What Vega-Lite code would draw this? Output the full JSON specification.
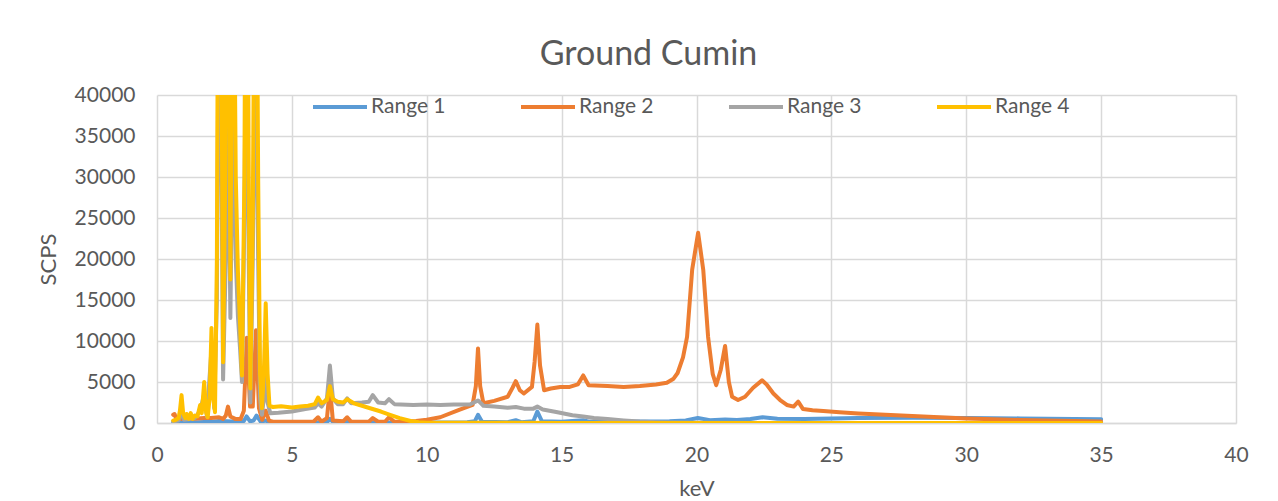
{
  "$schema": "https://vega.github.io/schema/vega-lite/v6.json",
  "autosize": "none",
  "width": 1079,
  "height": 328,
  "padding": {"left": 157, "top": 95, "right": 42, "bottom": 78},
  "background": "white",
  "title": {
    "text": "Ground Cumin",
    "fontSize": 34,
    "font": "Lato",
    "fontWeight": "normal",
    "color": "#595959",
    "anchor": "middle",
    "dx": -48,
    "offset": 6
  },
  "data": {
    "values": [
      {"series": "Range 1", "kev": 0.6, "scps": 50}, {"series": "Range 1", "kev": 1.0, "scps": 100}, {"series": "Range 1", "kev": 1.5, "scps": 100},
      {"series": "Range 1", "kev": 2.0, "scps": 150}, {"series": "Range 1", "kev": 2.3, "scps": 250}, {"series": "Range 1", "kev": 2.6, "scps": 200},
      {"series": "Range 1", "kev": 3.0, "scps": 150}, {"series": "Range 1", "kev": 3.22, "scps": 250}, {"series": "Range 1", "kev": 3.32, "scps": 800},
      {"series": "Range 1", "kev": 3.45, "scps": 200}, {"series": "Range 1", "kev": 3.58, "scps": 300}, {"series": "Range 1", "kev": 3.69, "scps": 900},
      {"series": "Range 1", "kev": 3.85, "scps": 150}, {"series": "Range 1", "kev": 4.02, "scps": 300}, {"series": "Range 1", "kev": 4.2, "scps": 80},
      {"series": "Range 1", "kev": 5.0, "scps": 60}, {"series": "Range 1", "kev": 6.0, "scps": 60}, {"series": "Range 1", "kev": 6.3, "scps": 100},
      {"series": "Range 1", "kev": 6.41, "scps": 500}, {"series": "Range 1", "kev": 6.55, "scps": 50}, {"series": "Range 1", "kev": 7.05, "scps": 120},
      {"series": "Range 1", "kev": 8.0, "scps": 50}, {"series": "Range 1", "kev": 9.0, "scps": 50}, {"series": "Range 1", "kev": 10.0, "scps": 50},
      {"series": "Range 1", "kev": 11.5, "scps": 100}, {"series": "Range 1", "kev": 11.78, "scps": 200}, {"series": "Range 1", "kev": 11.9, "scps": 1000},
      {"series": "Range 1", "kev": 12.05, "scps": 150}, {"series": "Range 1", "kev": 13.0, "scps": 100}, {"series": "Range 1", "kev": 13.3, "scps": 350},
      {"series": "Range 1", "kev": 13.5, "scps": 100}, {"series": "Range 1", "kev": 13.95, "scps": 200}, {"series": "Range 1", "kev": 14.1, "scps": 1400},
      {"series": "Range 1", "kev": 14.27, "scps": 200}, {"series": "Range 1", "kev": 15.0, "scps": 150}, {"series": "Range 1", "kev": 15.8, "scps": 350},
      {"series": "Range 1", "kev": 16.0, "scps": 150}, {"series": "Range 1", "kev": 17.0, "scps": 150}, {"series": "Range 1", "kev": 18.0, "scps": 170},
      {"series": "Range 1", "kev": 19.0, "scps": 220}, {"series": "Range 1", "kev": 19.6, "scps": 320}, {"series": "Range 1", "kev": 20.05, "scps": 600},
      {"series": "Range 1", "kev": 20.5, "scps": 350}, {"series": "Range 1", "kev": 21.06, "scps": 420}, {"series": "Range 1", "kev": 21.5, "scps": 380},
      {"series": "Range 1", "kev": 22.0, "scps": 480}, {"series": "Range 1", "kev": 22.45, "scps": 700}, {"series": "Range 1", "kev": 23.0, "scps": 520},
      {"series": "Range 1", "kev": 24.0, "scps": 500}, {"series": "Range 1", "kev": 25.0, "scps": 560}, {"series": "Range 1", "kev": 26.0, "scps": 600},
      {"series": "Range 1", "kev": 28.0, "scps": 650}, {"series": "Range 1", "kev": 30.0, "scps": 620}, {"series": "Range 1", "kev": 32.0, "scps": 560},
      {"series": "Range 1", "kev": 34.0, "scps": 500}, {"series": "Range 1", "kev": 35.0, "scps": 460},

      {"series": "Range 2", "kev": 0.6, "scps": 1000}, {"series": "Range 2", "kev": 0.65, "scps": 1100}, {"series": "Range 2", "kev": 0.72, "scps": 400},
      {"series": "Range 2", "kev": 0.9, "scps": 500}, {"series": "Range 2", "kev": 1.2, "scps": 500}, {"series": "Range 2", "kev": 1.5, "scps": 550},
      {"series": "Range 2", "kev": 1.75, "scps": 600}, {"series": "Range 2", "kev": 2.0, "scps": 600}, {"series": "Range 2", "kev": 2.3, "scps": 700},
      {"series": "Range 2", "kev": 2.45, "scps": 500}, {"series": "Range 2", "kev": 2.55, "scps": 900}, {"series": "Range 2", "kev": 2.63, "scps": 2000},
      {"series": "Range 2", "kev": 2.72, "scps": 800}, {"series": "Range 2", "kev": 2.9, "scps": 500}, {"series": "Range 2", "kev": 3.1, "scps": 500},
      {"series": "Range 2", "kev": 3.22, "scps": 1500}, {"series": "Range 2", "kev": 3.33, "scps": 10400}, {"series": "Range 2", "kev": 3.45, "scps": 2000},
      {"series": "Range 2", "kev": 3.55, "scps": 2000}, {"series": "Range 2", "kev": 3.67, "scps": 11300}, {"series": "Range 2", "kev": 3.78, "scps": 1800},
      {"series": "Range 2", "kev": 3.9, "scps": 400}, {"series": "Range 2", "kev": 4.03, "scps": 1500}, {"series": "Range 2", "kev": 4.15, "scps": 300},
      {"series": "Range 2", "kev": 4.3, "scps": 150}, {"series": "Range 2", "kev": 5.0, "scps": 150}, {"series": "Range 2", "kev": 5.8, "scps": 150},
      {"series": "Range 2", "kev": 5.97, "scps": 700}, {"series": "Range 2", "kev": 6.1, "scps": 150}, {"series": "Range 2", "kev": 6.3, "scps": 600},
      {"series": "Range 2", "kev": 6.41, "scps": 4300}, {"series": "Range 2", "kev": 6.52, "scps": 300}, {"series": "Range 2", "kev": 6.9, "scps": 200},
      {"series": "Range 2", "kev": 7.05, "scps": 700}, {"series": "Range 2", "kev": 7.2, "scps": 150}, {"series": "Range 2", "kev": 7.85, "scps": 150},
      {"series": "Range 2", "kev": 8.0, "scps": 600}, {"series": "Range 2", "kev": 8.2, "scps": 150}, {"series": "Range 2", "kev": 8.45, "scps": 150},
      {"series": "Range 2", "kev": 8.6, "scps": 700}, {"series": "Range 2", "kev": 8.8, "scps": 150}, {"series": "Range 2", "kev": 9.2, "scps": 150},
      {"series": "Range 2", "kev": 9.6, "scps": 250}, {"series": "Range 2", "kev": 10.0, "scps": 400}, {"series": "Range 2", "kev": 10.5, "scps": 700},
      {"series": "Range 2", "kev": 11.2, "scps": 1600}, {"series": "Range 2", "kev": 11.7, "scps": 2200}, {"series": "Range 2", "kev": 11.82, "scps": 4500},
      {"series": "Range 2", "kev": 11.9, "scps": 9100}, {"series": "Range 2", "kev": 11.98, "scps": 4500}, {"series": "Range 2", "kev": 12.1, "scps": 2400},
      {"series": "Range 2", "kev": 12.5, "scps": 2700}, {"series": "Range 2", "kev": 13.0, "scps": 3200}, {"series": "Range 2", "kev": 13.18, "scps": 4300},
      {"series": "Range 2", "kev": 13.3, "scps": 5100}, {"series": "Range 2", "kev": 13.45, "scps": 4000}, {"series": "Range 2", "kev": 13.6, "scps": 3600},
      {"series": "Range 2", "kev": 13.9, "scps": 4400}, {"series": "Range 2", "kev": 14.0, "scps": 7500}, {"series": "Range 2", "kev": 14.1, "scps": 12000},
      {"series": "Range 2", "kev": 14.2, "scps": 7000}, {"series": "Range 2", "kev": 14.35, "scps": 4000}, {"series": "Range 2", "kev": 14.6, "scps": 4200},
      {"series": "Range 2", "kev": 14.95, "scps": 4400}, {"series": "Range 2", "kev": 15.3, "scps": 4400}, {"series": "Range 2", "kev": 15.6, "scps": 4700},
      {"series": "Range 2", "kev": 15.8, "scps": 5800}, {"series": "Range 2", "kev": 16.0, "scps": 4600}, {"series": "Range 2", "kev": 16.7, "scps": 4500},
      {"series": "Range 2", "kev": 17.3, "scps": 4400}, {"series": "Range 2", "kev": 17.9, "scps": 4500}, {"series": "Range 2", "kev": 18.5, "scps": 4700},
      {"series": "Range 2", "kev": 18.9, "scps": 4900}, {"series": "Range 2", "kev": 19.15, "scps": 5400}, {"series": "Range 2", "kev": 19.3, "scps": 6100},
      {"series": "Range 2", "kev": 19.5, "scps": 8000}, {"series": "Range 2", "kev": 19.65, "scps": 10500}, {"series": "Range 2", "kev": 19.84, "scps": 18700},
      {"series": "Range 2", "kev": 20.06, "scps": 23200}, {"series": "Range 2", "kev": 20.25, "scps": 18700}, {"series": "Range 2", "kev": 20.43, "scps": 10500},
      {"series": "Range 2", "kev": 20.6, "scps": 6000}, {"series": "Range 2", "kev": 20.73, "scps": 4600}, {"series": "Range 2", "kev": 20.9, "scps": 6500},
      {"series": "Range 2", "kev": 21.06, "scps": 9400}, {"series": "Range 2", "kev": 21.2, "scps": 5000}, {"series": "Range 2", "kev": 21.32, "scps": 3200},
      {"series": "Range 2", "kev": 21.54, "scps": 2800}, {"series": "Range 2", "kev": 21.8, "scps": 3200}, {"series": "Range 2", "kev": 22.1, "scps": 4300},
      {"series": "Range 2", "kev": 22.43, "scps": 5200}, {"series": "Range 2", "kev": 22.6, "scps": 4700}, {"series": "Range 2", "kev": 22.85, "scps": 3600},
      {"series": "Range 2", "kev": 23.1, "scps": 2800}, {"series": "Range 2", "kev": 23.35, "scps": 2200}, {"series": "Range 2", "kev": 23.6, "scps": 2000},
      {"series": "Range 2", "kev": 23.77, "scps": 2600}, {"series": "Range 2", "kev": 23.95, "scps": 1700}, {"series": "Range 2", "kev": 24.3, "scps": 1550},
      {"series": "Range 2", "kev": 24.7, "scps": 1450}, {"series": "Range 2", "kev": 25.3, "scps": 1300}, {"series": "Range 2", "kev": 26.0, "scps": 1150},
      {"series": "Range 2", "kev": 27.0, "scps": 1000}, {"series": "Range 2", "kev": 28.0, "scps": 850}, {"series": "Range 2", "kev": 29.0, "scps": 700},
      {"series": "Range 2", "kev": 30.0, "scps": 560}, {"series": "Range 2", "kev": 31.0, "scps": 450}, {"series": "Range 2", "kev": 32.0, "scps": 370},
      {"series": "Range 2", "kev": 33.0, "scps": 300}, {"series": "Range 2", "kev": 34.0, "scps": 230}, {"series": "Range 2", "kev": 35.0, "scps": 180},

      {"series": "Range 3", "kev": 0.6, "scps": 200}, {"series": "Range 3", "kev": 0.8, "scps": 300}, {"series": "Range 3", "kev": 0.91, "scps": 1500},
      {"series": "Range 3", "kev": 1.0, "scps": 400}, {"series": "Range 3", "kev": 1.2, "scps": 500}, {"series": "Range 3", "kev": 1.4, "scps": 600},
      {"series": "Range 3", "kev": 1.6, "scps": 1500}, {"series": "Range 3", "kev": 1.75, "scps": 3500}, {"series": "Range 3", "kev": 1.85, "scps": 800},
      {"series": "Range 3", "kev": 2.02, "scps": 9000}, {"series": "Range 3", "kev": 2.12, "scps": 1800}, {"series": "Range 3", "kev": 2.22, "scps": 15000},
      {"series": "Range 3", "kev": 2.3, "scps": 60000}, {"series": "Range 3", "kev": 2.37, "scps": 40000}, {"series": "Range 3", "kev": 2.45, "scps": 5300},
      {"series": "Range 3", "kev": 2.55, "scps": 20000}, {"series": "Range 3", "kev": 2.62, "scps": 45000}, {"series": "Range 3", "kev": 2.72, "scps": 12800},
      {"series": "Range 3", "kev": 2.82, "scps": 40000}, {"series": "Range 3", "kev": 2.92, "scps": 20000}, {"series": "Range 3", "kev": 3.0, "scps": 13000},
      {"series": "Range 3", "kev": 3.08, "scps": 9000}, {"series": "Range 3", "kev": 3.15, "scps": 5000}, {"series": "Range 3", "kev": 3.24, "scps": 25000},
      {"series": "Range 3", "kev": 3.32, "scps": 60000}, {"series": "Range 3", "kev": 3.4, "scps": 20000}, {"series": "Range 3", "kev": 3.46, "scps": 2500},
      {"series": "Range 3", "kev": 3.55, "scps": 20000}, {"series": "Range 3", "kev": 3.66, "scps": 50000}, {"series": "Range 3", "kev": 3.75, "scps": 20000},
      {"series": "Range 3", "kev": 3.82, "scps": 3000}, {"series": "Range 3", "kev": 3.89, "scps": 1000}, {"series": "Range 3", "kev": 3.96, "scps": 3000},
      {"series": "Range 3", "kev": 4.03, "scps": 6000}, {"series": "Range 3", "kev": 4.1, "scps": 2500}, {"series": "Range 3", "kev": 4.2, "scps": 1200},
      {"series": "Range 3", "kev": 4.5, "scps": 1250}, {"series": "Range 3", "kev": 5.0, "scps": 1400}, {"series": "Range 3", "kev": 5.5, "scps": 1700},
      {"series": "Range 3", "kev": 5.85, "scps": 1900}, {"series": "Range 3", "kev": 5.97, "scps": 2400}, {"series": "Range 3", "kev": 6.1, "scps": 2000},
      {"series": "Range 3", "kev": 6.3, "scps": 3000}, {"series": "Range 3", "kev": 6.41, "scps": 7000}, {"series": "Range 3", "kev": 6.52, "scps": 3000},
      {"series": "Range 3", "kev": 6.7, "scps": 2300}, {"series": "Range 3", "kev": 6.9, "scps": 2300}, {"series": "Range 3", "kev": 7.05, "scps": 3000},
      {"series": "Range 3", "kev": 7.2, "scps": 2400}, {"series": "Range 3", "kev": 7.6, "scps": 2500}, {"series": "Range 3", "kev": 7.85, "scps": 2600},
      {"series": "Range 3", "kev": 8.0, "scps": 3400}, {"series": "Range 3", "kev": 8.2, "scps": 2500}, {"series": "Range 3", "kev": 8.45, "scps": 2400},
      {"series": "Range 3", "kev": 8.6, "scps": 2900}, {"series": "Range 3", "kev": 8.8, "scps": 2300}, {"series": "Range 3", "kev": 9.5, "scps": 2200},
      {"series": "Range 3", "kev": 10.0, "scps": 2250}, {"series": "Range 3", "kev": 10.5, "scps": 2200}, {"series": "Range 3", "kev": 11.0, "scps": 2250},
      {"series": "Range 3", "kev": 11.6, "scps": 2250}, {"series": "Range 3", "kev": 11.9, "scps": 2750}, {"series": "Range 3", "kev": 12.1, "scps": 2100},
      {"series": "Range 3", "kev": 12.5, "scps": 2000}, {"series": "Range 3", "kev": 13.0, "scps": 1850}, {"series": "Range 3", "kev": 13.3, "scps": 1950},
      {"series": "Range 3", "kev": 13.6, "scps": 1750}, {"series": "Range 3", "kev": 13.95, "scps": 1750}, {"series": "Range 3", "kev": 14.1, "scps": 2000},
      {"series": "Range 3", "kev": 14.3, "scps": 1650}, {"series": "Range 3", "kev": 14.8, "scps": 1350}, {"series": "Range 3", "kev": 15.4, "scps": 950},
      {"series": "Range 3", "kev": 15.8, "scps": 800}, {"series": "Range 3", "kev": 16.2, "scps": 620}, {"series": "Range 3", "kev": 16.7, "scps": 480},
      {"series": "Range 3", "kev": 17.3, "scps": 320}, {"series": "Range 3", "kev": 17.9, "scps": 180}, {"series": "Range 3", "kev": 18.5, "scps": 90},
      {"series": "Range 3", "kev": 19.0, "scps": 50}, {"series": "Range 3", "kev": 20.0, "scps": 20}, {"series": "Range 3", "kev": 25.0, "scps": 10},
      {"series": "Range 3", "kev": 30.0, "scps": 10}, {"series": "Range 3", "kev": 35.0, "scps": 10},

      {"series": "Range 4", "kev": 0.6, "scps": 300}, {"series": "Range 4", "kev": 0.7, "scps": 400}, {"series": "Range 4", "kev": 0.8, "scps": 600},
      {"series": "Range 4", "kev": 0.85, "scps": 1500}, {"series": "Range 4", "kev": 0.91, "scps": 3400}, {"series": "Range 4", "kev": 0.97, "scps": 1200},
      {"series": "Range 4", "kev": 1.05, "scps": 600}, {"series": "Range 4", "kev": 1.1, "scps": 1100}, {"series": "Range 4", "kev": 1.18, "scps": 500},
      {"series": "Range 4", "kev": 1.25, "scps": 1200}, {"series": "Range 4", "kev": 1.32, "scps": 500}, {"series": "Range 4", "kev": 1.4, "scps": 900},
      {"series": "Range 4", "kev": 1.5, "scps": 800}, {"series": "Range 4", "kev": 1.6, "scps": 2200}, {"series": "Range 4", "kev": 1.66, "scps": 1200},
      {"series": "Range 4", "kev": 1.75, "scps": 5000}, {"series": "Range 4", "kev": 1.82, "scps": 1300}, {"series": "Range 4", "kev": 1.88, "scps": 700},
      {"series": "Range 4", "kev": 1.95, "scps": 3000}, {"series": "Range 4", "kev": 2.02, "scps": 11600}, {"series": "Range 4", "kev": 2.09, "scps": 3000},
      {"series": "Range 4", "kev": 2.15, "scps": 1300}, {"series": "Range 4", "kev": 2.22, "scps": 20000}, {"series": "Range 4", "kev": 2.3, "scps": 90000},
      {"series": "Range 4", "kev": 2.37, "scps": 60000}, {"series": "Range 4", "kev": 2.45, "scps": 7400}, {"series": "Range 4", "kev": 2.53, "scps": 30000},
      {"series": "Range 4", "kev": 2.62, "scps": 80000}, {"series": "Range 4", "kev": 2.72, "scps": 17500}, {"series": "Range 4", "kev": 2.82, "scps": 70000},
      {"series": "Range 4", "kev": 2.92, "scps": 30000}, {"series": "Range 4", "kev": 3.0, "scps": 18500}, {"series": "Range 4", "kev": 3.08, "scps": 12000},
      {"series": "Range 4", "kev": 3.15, "scps": 5800}, {"series": "Range 4", "kev": 3.24, "scps": 30000}, {"series": "Range 4", "kev": 3.32, "scps": 90000},
      {"series": "Range 4", "kev": 3.4, "scps": 30000}, {"series": "Range 4", "kev": 3.46, "scps": 4200}, {"series": "Range 4", "kev": 3.55, "scps": 25000},
      {"series": "Range 4", "kev": 3.66, "scps": 80000}, {"series": "Range 4", "kev": 3.75, "scps": 30000}, {"series": "Range 4", "kev": 3.82, "scps": 6000},
      {"series": "Range 4", "kev": 3.89, "scps": 1800}, {"series": "Range 4", "kev": 3.96, "scps": 6000}, {"series": "Range 4", "kev": 4.03, "scps": 14600},
      {"series": "Range 4", "kev": 4.1, "scps": 6000}, {"series": "Range 4", "kev": 4.17, "scps": 2100}, {"series": "Range 4", "kev": 4.3, "scps": 1950},
      {"series": "Range 4", "kev": 4.6, "scps": 2050}, {"series": "Range 4", "kev": 5.0, "scps": 1900}, {"series": "Range 4", "kev": 5.3, "scps": 2000},
      {"series": "Range 4", "kev": 5.6, "scps": 2100}, {"series": "Range 4", "kev": 5.85, "scps": 2300}, {"series": "Range 4", "kev": 5.97, "scps": 3100},
      {"series": "Range 4", "kev": 6.1, "scps": 2400}, {"series": "Range 4", "kev": 6.3, "scps": 2800}, {"series": "Range 4", "kev": 6.41, "scps": 4500},
      {"series": "Range 4", "kev": 6.52, "scps": 2900}, {"series": "Range 4", "kev": 6.7, "scps": 2600}, {"series": "Range 4", "kev": 6.9, "scps": 2500},
      {"series": "Range 4", "kev": 7.05, "scps": 2900}, {"series": "Range 4", "kev": 7.3, "scps": 2400}, {"series": "Range 4", "kev": 7.6, "scps": 2100},
      {"series": "Range 4", "kev": 7.9, "scps": 1800}, {"series": "Range 4", "kev": 8.3, "scps": 1400}, {"series": "Range 4", "kev": 8.64, "scps": 1000},
      {"series": "Range 4", "kev": 9.0, "scps": 600}, {"series": "Range 4", "kev": 9.4, "scps": 250}, {"series": "Range 4", "kev": 9.7, "scps": 80},
      {"series": "Range 4", "kev": 10.0, "scps": 20}, {"series": "Range 4", "kev": 12.0, "scps": 20}, {"series": "Range 4", "kev": 15.0, "scps": 10},
      {"series": "Range 4", "kev": 20.0, "scps": 10}, {"series": "Range 4", "kev": 25.0, "scps": 10}, {"series": "Range 4", "kev": 30.0, "scps": 10},
      {"series": "Range 4", "kev": 35.0, "scps": 10}
    ]
  },
  "mark": {"type": "line", "clip": true, "strokeWidth": 4, "strokeJoin": "round", "strokeCap": "round"},
  "encoding": {
    "x": {
      "field": "kev",
      "type": "quantitative",
      "title": "keV",
      "scale": {"domain": [0, 40], "nice": false},
      "axis": {"values": [0, 5, 10, 15, 20, 25, 30, 35, 40], "labelPadding": 21, "titlePadding": 13, "labelFlush": false}
    },
    "y": {
      "field": "scps",
      "type": "quantitative",
      "title": "SCPS",
      "scale": {"domain": [0, 40000], "nice": false},
      "axis": {"values": [0, 5000, 10000, 15000, 20000, 25000, 30000, 35000, 40000], "format": "d", "labelPadding": 22, "titlePadding": 14, "domain": false, "labelFlush": false}
    },
    "color": {
      "field": "series",
      "type": "nominal",
      "scale": {"domain": ["Range 1", "Range 2", "Range 3", "Range 4"], "range": ["#5B9BD5", "#ED7D31", "#A5A5A5", "#FFC000"]},
      "legend": {
        "orient": "none",
        "legendX": 154,
        "legendY": -17,
        "direction": "horizontal",
        "columns": 4,
        "gridAlign": "all",
        "title": null,
        "symbolType": "stroke",
        "symbolSize": 2916,
        "symbolStrokeWidth": 4,
        "labelOffset": 2,
        "columnPadding": 67,
        "padding": 0
      }
    }
  },
  "config": {
    "font": "Lato",
    "view": {"stroke": null},
    "axis": {
      "labelFont": "Lato",
      "titleFont": "Lato",
      "labelFontSize": 21,
      "titleFontSize": 22,
      "labelColor": "#595959",
      "titleColor": "#595959",
      "titleFontWeight": "normal",
      "gridColor": "#D9D9D9",
      "gridWidth": 1.5,
      "domainColor": "#D9D9D9",
      "domainWidth": 1.5,
      "ticks": false
    },
    "legend": {
      "labelFont": "Lato",
      "labelFontSize": 21,
      "labelColor": "#595959"
    }
  }
}
